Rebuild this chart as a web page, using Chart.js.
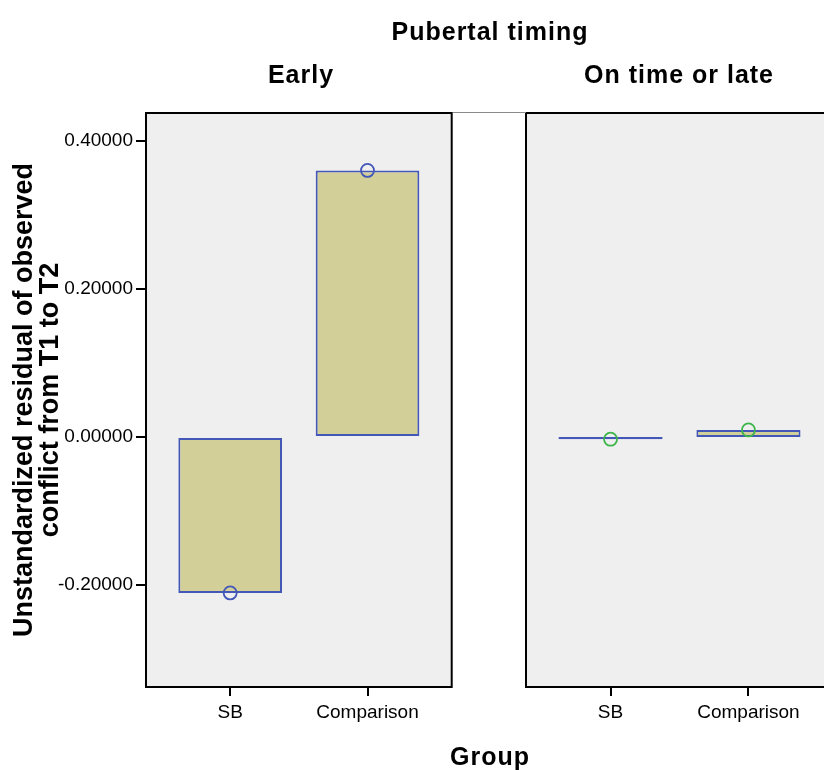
<!DOCTYPE html>
<html>
<head>
<meta charset="utf-8">
<script src="https://cdn.jsdelivr.net/npm/chart.js@4/dist/chart.umd.min.js"></script>
<style>
  body { margin: 0; width: 824px; height: 770px; overflow: hidden; background: #fff; position: relative;
         font-family: "Liberation Sans", Arial, sans-serif; }
  canvas { position: absolute; top: 0; }
  .lbl { position: absolute; font-weight: bold; font-size: 25px; letter-spacing: 1px; color: #000;
         transform: translate(-50%, -50%); white-space: nowrap; }
</style>
</head>
<body>
<canvas id="early" width="460" height="770" style="left:0"></canvas>
<canvas id="late" width="330" height="770" style="left:516px"></canvas>
<div style="position:absolute;left:453px;top:112px;width:73px;height:1px;background:#8a8a8a"></div>
<div class="lbl" style="left:490px;top:31px">Pubertal timing</div>
<div class="lbl" id="t0" style="left:301px;top:74px"></div>
<div class="lbl" id="t1" style="left:679px;top:74px"></div>
<div class="lbl" style="left:490px;top:756px">Group</div>
<script>
// data
const groups = ["SB", "Comparison"];
const panelTitles = ["Early", "On time or late"];
const earlyValues = [-0.2108, 0.3604];
const lateValues = [-0.003, 0.0095];
const yTicks = [-0.2, 0, 0.2, 0.4];
const yTitle = ["Unstandardized residual of observed", "conflict from T1 to T2"];

document.getElementById("t0").textContent = panelTitles[0];
document.getElementById("t1").textContent = panelTitles[1];

const barFill = "#d3cf98";
const barLine = "#4257b8";

// grey panel + black frame
const panelBox = {
  id: "panelBox",
  beforeDraw(chart) {
    const a = chart.chartArea, c = chart.ctx;
    c.save();
    c.fillStyle = "#efefef";
    c.fillRect(a.left, a.top, a.right - a.left, a.bottom - a.top);
    c.restore();
  },
  afterDraw(chart) {
    const a = chart.chartArea, c = chart.ctx;
    c.save();
    c.strokeStyle = "#000";
    c.lineWidth = 2;
    c.strokeRect(a.left, a.top, a.right - a.left, a.bottom - a.top);
    c.restore();
  }
};

function makePanel(id, values, pointColor, showY, pad) {
  const pts = groups.map((g, i) => ({ x: i + 1, y: values[i] }));
  return new Chart(id, {
    type: "bar",
    data: {
      datasets: [{
        data: pts,
        backgroundColor: barFill,
        borderColor: barLine,
        borderWidth: 2,
        borderSkipped: false,
        categoryPercentage: 1,
        barPercentage: 0.755,
        order: 2
      }, {
        type: "line",
        data: pts,
        showLine: false,
        pointRadius: 6.5,
        pointBorderWidth: 1.8,
        pointBorderColor: pointColor,
        pointBackgroundColor: "rgba(0,0,0,0)",
        order: 1
      }]
    },
    options: {
      responsive: false,
      animation: false,
      layout: { padding: pad },
      plugins: { legend: { display: false }, tooltip: { enabled: false } },
      scales: {
        x: {
          type: "linear",
          min: 0.387,
          max: 2.613,
          offset: false,
          afterBuildTicks: s => { s.ticks = groups.map((g, i) => ({ value: i + 1 })); },
          afterFit: s => { s.height = 83; },
          ticks: {
            callback: v => groups[v - 1],
            color: "#000",
            font: { family: "Liberation Sans, Arial", size: 19 },
            padding: 5,
            maxRotation: 0
          },
          grid: { offset: false, drawOnChartArea: false, color: "#000", lineWidth: 2, tickLength: 9 },
          border: { display: false }
        },
        y: {
          display: showY,
          min: -0.338,
          max: 0.438,
          afterBuildTicks: s => { s.ticks = yTicks.map(v => ({ value: v })); },
          afterFit: s => { if (showY) s.width = 146; },
          ticks: {
            callback: v => v.toFixed(5),
            color: "#000",
            font: { family: "Liberation Sans, Arial", size: 19 },
            padding: 3
          },
          grid: { drawOnChartArea: false, color: "#000", lineWidth: 2, tickLength: 10 },
          border: { display: false },
          title: {
            display: true,
            text: yTitle,
            color: "#000",
            font: { family: "Liberation Sans, Arial", size: 27, weight: "bold", lineHeight: 0.95 },
            padding: { top: 12, bottom: 0 }
          }
        }
      }
    },
    plugins: [panelBox]
  });
}

makePanel("early", earlyValues, "#4257b8", true, { top: 113, left: 0, right: 7, bottom: 0 });
makePanel("late", lateValues, "#3cb64a", false, { top: 113, left: 10, right: 13, bottom: 0 });
</script>
</body>
</html>
